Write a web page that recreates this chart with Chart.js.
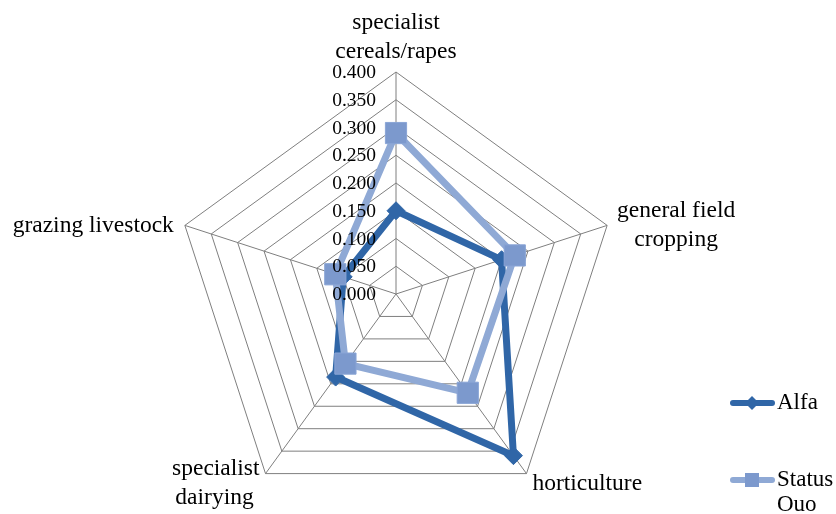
<!DOCTYPE html>
<html>
<head>
<meta charset="utf-8">
<style>
  html, body { margin: 0; padding: 0; background: #ffffff; }
  #wrap { position: relative; width: 836px; height: 514px; }
</style>
<script src="https://cdn.jsdelivr.net/npm/chart.js@4.4.1/dist/chart.umd.min.js"></script>
</head>
<body>
<div id="wrap"><canvas id="c" width="836" height="514"></canvas></div>
<script>
const categories = [
  ['specialist', 'cereals/rapes'],
  ['general field', 'cropping'],
  ['horticulture'],
  ['specialist', 'dairying'],
  ['grazing livestock']
];
const alfaValues = [0.15, 0.20, 0.36, 0.185, 0.10];
const statusQuoValues = [0.29, 0.225, 0.22, 0.155, 0.115];
const tickLabels = ['0.000', '0.050', '0.100', '0.150', '0.200', '0.250', '0.300', '0.350', '0.400'];
const seriesNames = ['Alfa', ['Status', 'Ouo']];

const ALFA = '#3066a7';
const SQ_LINE = '#8fa9d5';
const SQ_FILL = '#7c99cd';
const SERIF = '"Liberation Serif", "Times New Roman", serif';

const labelPlugin = {
  id: 'customText',
  afterDatasetsDraw(chart) {
    const s = chart.scales.r;
    const ctx = chart.ctx;
    ctx.save();
    ctx.fillStyle = '#000';
    ctx.font = '19.5px ' + SERIF;
    ctx.textAlign = 'right';
    ctx.textBaseline = 'middle';
    tickLabels.forEach(t => {
      const d = s.getDistanceFromCenterForValue(parseFloat(t));
      ctx.fillText(t, s.xCenter - 20, s.yCenter - d + 1);
    });
    ctx.font = '23.5px ' + SERIF;
    const lh = 29;
    const place = [
      {dx: 0, dy: -20, align: 'center', vert: 'bottom'},
      {dx: 69, dy: 0, align: 'center', vert: 'middle'},
      {dx: 6, dy: 10, align: 'left', vert: 'top'},
      {dx: -51, dy: -5, align: 'center', vert: 'top'},
      {dx: -11, dy: 0, align: 'right', vert: 'middle'}
    ];
    categories.forEach((lines, i) => {
      const p = s.getPointPosition(i, s.drawingArea);
      const pl = place[i];
      const x = p.x + pl.dx;
      const n = lines.length;
      let y0;
      if (pl.vert === 'bottom') y0 = p.y + pl.dy - (n - 1) * lh;
      else if (pl.vert === 'middle') y0 = p.y + pl.dy - (n - 1) * lh / 2;
      else y0 = p.y + pl.dy;
      lines.forEach((ln, k) => {
        if (i === 3 && k === 0) {
          ctx.textAlign = 'right';
          ctx.fillText(ln, p.x - 6, y0);
        } else {
          ctx.textAlign = pl.align;
          ctx.fillText(ln, x, y0 + k * lh);
        }
      });
    });
    ctx.restore();
  },
  afterDraw(chart) {
    const ctx = chart.ctx;
    ctx.save();
    const items = [
      {y: 403, color: ALFA, style: 'diamond'},
      {y: 480, color: SQ_LINE, fill: SQ_FILL, style: 'square'}
    ];
    items.forEach((it, i) => {
      ctx.strokeStyle = it.color;
      ctx.lineWidth = 6;
      ctx.lineCap = 'round';
      ctx.beginPath();
      ctx.moveTo(733, it.y);
      ctx.lineTo(772, it.y);
      ctx.stroke();
      if (it.style === 'diamond') {
        ctx.fillStyle = it.color;
        ctx.beginPath();
        ctx.moveTo(752, it.y - 7);
        ctx.lineTo(759, it.y);
        ctx.lineTo(752, it.y + 7);
        ctx.lineTo(745, it.y);
        ctx.closePath();
        ctx.fill();
      } else {
        ctx.fillStyle = it.fill;
        ctx.fillRect(745, it.y - 7, 14, 14);
      }
      ctx.fillStyle = '#000';
      ctx.font = '23px ' + SERIF;
      ctx.textAlign = 'left';
      ctx.textBaseline = 'middle';
      const name = seriesNames[i];
      const lines = Array.isArray(name) ? name : [name];
      lines.forEach((ln, k) => ctx.fillText(ln, 777, it.y + k * 25));
    });
    ctx.restore();
  }
};

new Chart(document.getElementById('c'), {
  type: 'radar',
  data: {
    labels: categories,
    datasets: [
      {
        label: 'Alfa',
        data: alfaValues,
        borderColor: ALFA,
        backgroundColor: ALFA,
        borderWidth: 7,
        pointStyle: 'rectRot',
        pointRadius: 9,
        pointBackgroundColor: ALFA,
        pointBorderColor: ALFA,
        pointBorderWidth: 1,
        fill: false,
        order: 2
      },
      {
        label: 'Status Ouo',
        data: statusQuoValues,
        borderColor: SQ_LINE,
        backgroundColor: SQ_FILL,
        borderWidth: 7,
        pointStyle: 'rect',
        pointRadius: 15,
        pointBackgroundColor: SQ_FILL,
        pointBorderColor: '#8aa5d6',
        pointBorderWidth: 1,
        fill: false,
        order: 1
      }
    ]
  },
  options: {
    responsive: false,
    devicePixelRatio: 1,
    animation: false,
    plugins: { legend: { display: false }, tooltip: { enabled: false } },
    elements: { line: { tension: 0 } },
    scales: {
      r: {
        min: 0,
        max: 0.4,
        ticks: { stepSize: 0.05, display: false },
        grid: { color: '#7f7f7f', lineWidth: 1, circular: false },
        angleLines: { color: '#7f7f7f', lineWidth: 1 },
        pointLabels: { display: false },
        afterFit(scale) {
          scale.xCenter = 396;
          scale.yCenter = 294;
          scale.drawingArea = 222;
        }
      }
    }
  },
  plugins: [labelPlugin]
});
</script>
</body>
</html>
